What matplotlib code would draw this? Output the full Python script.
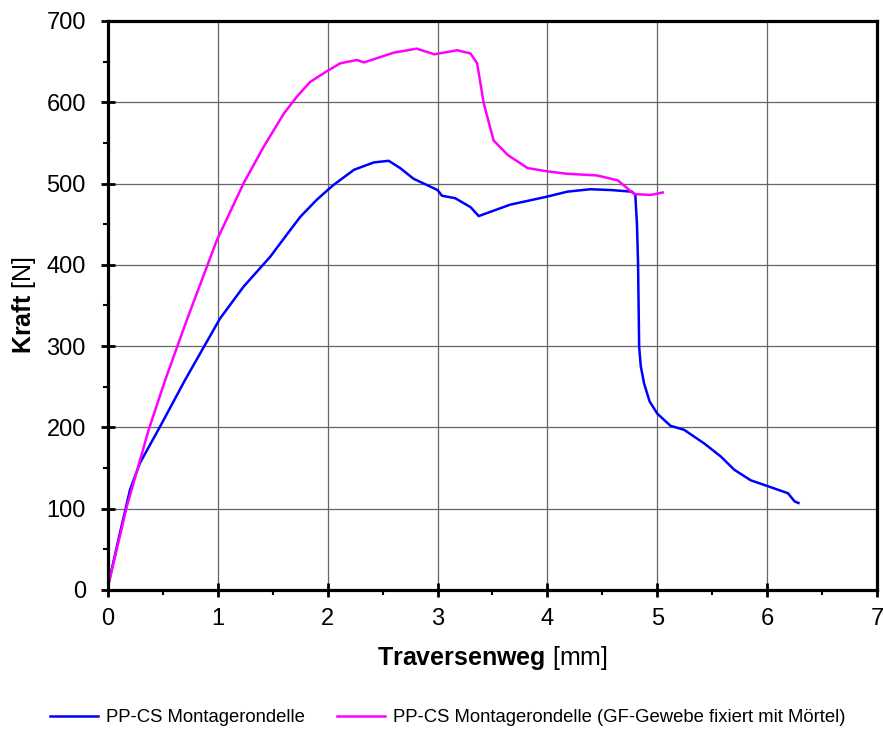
import matplotlib
matplotlib.use("Agg")
import matplotlib.pyplot as plt
from matplotlib.ticker import MultipleLocator

plt.rcParams['font.family'] = ['Liberation Sans', 'DejaVu Sans']
plt.rcParams['mathtext.fontset'] = 'custom'
plt.rcParams['mathtext.rm'] = 'Liberation Sans'
plt.rcParams['mathtext.bf'] = 'Liberation Sans:bold'

# Blue series: PP-CS Montagerondelle
blue_x = [0.0, 0.1, 0.2, 0.29, 0.474, 0.70, 1.02, 1.233, 1.477, 1.66, 1.75, 1.90, 2.05, 2.24, 2.42, 2.555,
          2.66, 2.78, 2.875, 3.0, 3.04, 3.16, 3.30, 3.375, 3.66, 4.0, 4.18, 4.39, 4.58, 4.77,
          4.80, 4.815, 4.825, 4.835, 4.85, 4.88, 4.93, 5.0, 5.12, 5.245, 5.43, 5.58, 5.70, 5.85,
          6.0, 6.19, 6.25, 6.285]
blue_y = [5, 65, 123, 156, 201, 258, 334, 373, 410, 443, 459, 480, 498, 517, 526, 528,
          519, 506, 500, 492, 485, 482, 471, 460, 474, 484, 490, 493, 492, 490,
          486, 450, 402, 299, 275, 254, 232, 217, 202, 197, 180, 164, 148, 135,
          128, 119, 109, 107]

# Magenta series: PP-CS Montagerondelle (GF-Gewebe fixiert mit Mörtel)
mag_x = [0.0, 0.17, 0.37, 0.52, 0.717, 0.99, 1.233, 1.416, 1.60, 1.72, 1.84, 1.99, 2.115, 2.267, 2.33,
         2.60, 2.81, 2.97, 3.18, 3.30, 3.36, 3.42, 3.51, 3.64, 3.82, 4.0, 4.18, 4.45, 4.64, 4.79,
         4.94, 5.05]
mag_y = [4, 102, 197, 258, 332, 430, 500, 545, 586, 607, 625, 638, 648, 652, 649,
         661, 666, 659, 664, 660, 648, 599, 553, 535, 519, 515, 512, 510, 504, 487,
         486, 489]

labels = ["PP-CS Montagerondelle", "PP-CS Montagerondelle (GF-Gewebe fixiert mit Mörtel)"]

fig = plt.figure(figsize=(8.83, 7.31), dpi=100)
ax = fig.add_axes([0.1223, 0.1929, 0.8709, 0.7784])

ax.plot(blue_x, blue_y, color='#0000FF', lw=1.8, label=labels[0])
ax.plot(mag_x, mag_y, color='#FF00FF', lw=1.8, label=labels[1])

ax.set_xlim(0, 7)
ax.set_ylim(0, 700)
ax.xaxis.set_major_locator(MultipleLocator(1))
ax.xaxis.set_minor_locator(MultipleLocator(0.5))
ax.yaxis.set_major_locator(MultipleLocator(100))
ax.yaxis.set_minor_locator(MultipleLocator(50))
ax.grid(True, which='major', color='#666666', lw=0.9)
ax.set_axisbelow(True)

for s in ['left', 'bottom', 'top', 'right']:
    ax.spines[s].set_linewidth(2.3)

ax.tick_params(which='major', direction='inout', length=10, width=2, labelsize=17)
ax.tick_params(which='minor', direction='out', length=3.5, width=1.5)
ax.tick_params(axis='x', which='major', pad=8)
ax.tick_params(axis='y', which='major', pad=11)

ax.set_xlabel(r"$\bf{Traversenweg}$ [mm]", fontsize=18, labelpad=10)
ax.set_ylabel(r"$\bf{Kraft}$ [N]", fontsize=18, labelpad=6)

fig.legend(loc='center', bbox_to_anchor=(0.507, 0.018), ncol=2, frameon=False,
           fontsize=13.3, handlelength=2.6, columnspacing=1.73, handletextpad=0.42)

fig.savefig("out.png", dpi=100)
